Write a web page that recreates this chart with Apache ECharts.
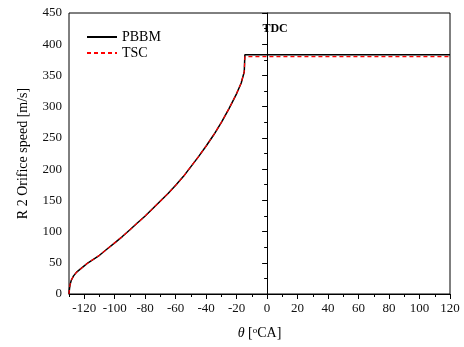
<!DOCTYPE html>
<html><head><meta charset="utf-8">
<script src="https://cdn.jsdelivr.net/npm/echarts@6/dist/echarts.min.js"></script>
<style>html,body{margin:0;padding:0;background:#fff}#c{width:464px;height:347px}</style>
</head><body><div id="c"></div>
<script>
const theta = [-130,-129.7,-129.3,-128.5,-127,-125,-122,-120,-117.5,-115,-110,-105,-100,-95,-90,-85,-80,-75,-70,-65,-60,-55,-50,-45,-40,-35,-30,-25,-20,-17,-15,-14.6,120];
const pbbm  = [0,8,15,22,29,35,41,45,50,54,62,72,82,92,103,114,125,137,149,161,174,188,204,220,237,255,275,297,321,338,356,383,383];
const tsc   = [0,8,15,22,29,35,41,45,50,54,62,72,82,92,103,114,125,137,149,161,174,188,204,220,237,255,275,297,321,338,356,380,380];
const xMajor = [-120,-100,-80,-60,-40,-20,0,20,40,60,80,100,120];
const xMinor = [-130,-110,-90,-70,-50,-30,-10,10,30,50,70,90,110];
const tdcLine = [0, 403];

const font = 'Liberation Serif';
const chart = echarts.init(document.getElementById('c'));
const pair = (xs, ys) => xs.map((x,i)=>[x, ys[i]]);
const axisLine = {show:true, lineStyle:{color:'#000', width:1}};
chart.setOption({
  animation:false,
  grid:{left:69, right:14, top:13, bottom:53, show:true, borderColor:'#000', borderWidth:1},
  legend:{
    show:true, left:81, top:25, orient:'vertical', itemWidth:30, itemHeight:12, itemGap:2,
    itemStyle:{opacity:0},
    textStyle:{fontFamily:font, fontSize:14, color:'#000'},
    data:['PBBM','TSC']
  },
  xAxis:[{
    type:'value', min:-130, max:120, position:'bottom',
    name:'{i|θ} [{s|o}CA]', nameLocation:'middle', nameGap:32,
    nameTextStyle:{fontFamily:font, fontSize:14, color:'#000',
      rich:{i:{fontStyle:'italic', fontFamily:font, fontSize:14}, s:{fontSize:9, fontFamily:font, verticalAlign:'top', padding:[0,0,6,0]}}},
    axisLine:axisLine,
    axisTick:{show:true, inside:false, length:5, customValues:xMajor, lineStyle:{color:'#000'}},
    axisLabel:{customValues:xMajor, fontFamily:font, fontSize:13, color:'#111', margin:8},
    splitLine:{show:false}
  },{
    type:'value', min:-130, max:120, position:'bottom',
    axisLine:{show:false},
    axisTick:{show:true, length:3, customValues:xMinor, lineStyle:{color:'#000'}},
    axisLabel:{show:false},
    splitLine:{show:false}
  }],
  yAxis:{
    type:'value', min:0, max:450, interval:50,
    name:'R 2 Orifice speed [m/s]', nameLocation:'middle', nameGap:39,
    nameTextStyle:{fontFamily:font, fontSize:14, color:'#000'},
    axisLine:axisLine,
    axisTick:{show:true, length:5, lineStyle:{color:'#000'}},
    minorTick:{show:true, splitNumber:2, length:3, lineStyle:{color:'#000'}},
    axisLabel:{fontFamily:font, fontSize:13, color:'#111', margin:7},
    splitLine:{show:false}
  },
  series:[{
    name:'PBBM', type:'line', xAxisIndex:0, data:pair(theta,pbbm), showSymbol:false, symbol:'none',
    lineStyle:{color:'#000', width:1.5}, itemStyle:{color:'#000'}, z:2,
    markLine:{
      silent:true, symbol:'none',
      lineStyle:{color:'#000', width:1, type:'solid'},
      label:{show:true, position:'end', formatter:'TDC', fontFamily:font, fontSize:12, fontWeight:'bold', color:'#000', distance:7, offset:[8,0]},
      data:[[{coord:[0,tdcLine[0]]},{coord:[0,tdcLine[1]]}]]
    }
  },{
    name:'TSC', type:'line', xAxisIndex:0, data:pair(theta,tsc), showSymbol:false, symbol:'none',
    lineStyle:{color:'#ff0000', width:1.2, type:[4,3]}, itemStyle:{color:'#ff0000'}, z:3
  }]
});
</script></body></html>
